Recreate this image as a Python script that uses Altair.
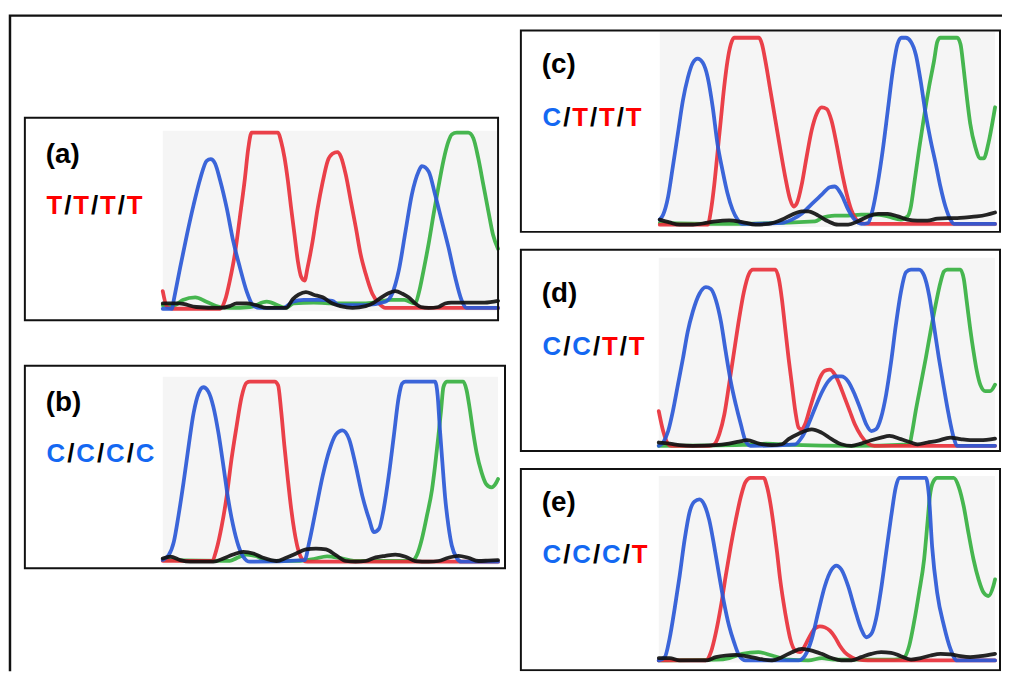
import altair as alt
import pandas as pd

# ---------------- data: chromatogram traces (scan position 0-100, signal 0-100) -------------
PANELS = ["a", "b", "c", "d", "e"]
LABELS = ["(a)", "(b)", "(c)", "(d)", "(e)"]
GENOTYPES = ["T/T/T/T", "C/C/C/C", "C/T/T/T", "C/C/T/T", "C/C/C/T"]
TRACE_NAMES = ["green", "red", "blue", "black"]
TRACE_COLORS = ["#36b040", "#e8303a", "#2a58d6", "#111111"]

A_BLUE = [(0,0),(2.8,0),(3.3,5),(5.2,23.5),(7.2,42),(9.2,59),(11.2,74),(13.1,84),(14.3,85),(15.6,82.5),(17.1,73),(19.1,57),(21,38.5),(23,23.5),(25,10),(26.9,2),(28.9,0.5),(36,0.5),(38.8,4),(42,5),(46.7,5),(50.6,4.5),(52.6,2),(60,2),(66.4,4),(68.4,8.5),(70.4,21.8),(72.4,44),(74.3,65),(76.3,78),(77.3,81),(79.3,78),(81.2,65),(83.2,50),(85.2,35),(87.2,18),(89.1,5),(90.6,0.5),(100,0.5)]
A_RED = [(0,10),(1.3,1),(3,0),(17.1,0),(18.6,5),(20,16),(21.5,31),(23,52),(24.5,74),(25.5,91),(26.5,100),(34.4,100),(35.3,95),(36.3,86),(37.3,73),(38.3,57),(39.3,42),(40.3,27),(41.3,18),(42.3,16),(43.2,23.5),(44.7,38.5),(46.2,57),(47.7,72),(49.2,84),(50.6,88),(52.1,89),(53.1,86.5),(54.6,76),(56.1,61),(57.6,46),(59,31),(60.5,20),(62.5,8.5),(64.5,3),(66.4,0.5),(100,0.5)]
A_GREEN = [(0,2),(3.3,2),(6,5),(9.7,6.5),(13,4),(17.1,1),(20,0.5),(26,1),(31,4),(36.8,0.5),(39,3),(45,3.5),(52,3),(60,3),(64.5,4),(68,5),(72,5),(75.3,3),(76.3,8.5),(77.8,22),(79.3,37),(80.8,54),(82.2,69),(83.7,84),(85.2,95),(86.2,99),(87.7,100),(91.1,100),(92.6,97),(94.1,85.5),(95.6,70.5),(97.1,55.5),(98.5,42),(100,34)]
A_BLACK = [(0,3),(5,3),(10,1),(17,0.5),(20,1.5),(22,3),(25,3),(28,2),(31,0.5),(36.8,0.5),(38.8,5.5),(40.5,8),(42.7,9.5),(45,8),(47.7,6.5),(50.6,3),(53,1.5),(56.6,0.5),(60.5,1.5),(63,3.5),(64.5,5.5),(67,8.5),(69.4,10),(71.5,8.5),(73.3,6.5),(75.3,3),(77,1),(79.3,0.5),(82.2,1),(84.2,3),(86,3.5),(90,3.5),(96,3.5),(100,4.5)]

B_BLUE = [(0,1),(1.8,3.7),(3.3,11),(4.7,25.7),(6.2,44),(7.7,64),(9.2,82.6),(10.7,93.6),(12.1,96.9),(13.6,94.5),(15.1,86),(16.6,71.6),(18.1,53),(19.5,34.9),(21,20),(22.5,9.2),(24,2.8),(26,0),(42.3,0.9),(43.7,11),(45.7,29.4),(47.7,47.7),(49.7,62),(51.6,70.6),(53.6,73),(55.6,68),(57.6,53),(59.5,36.7),(61.5,23.9),(63,16.5),(64.5,18.3),(65.9,29.4),(67.4,47.7),(68.9,69.7),(70.4,91.7),(71.4,99),(72.4,100),(81.2,100),(82,92),(82.6,75),(83.4,55),(84.2,36),(85.2,20),(86.2,9),(87.7,2),(89.1,0),(100,0)]
B_RED = [(0,0.5),(14.6,0.4),(16.1,7.3),(17.6,20),(19.1,36.7),(20.5,56.9),(22,75),(23.5,91.4),(25,99.4),(26,100),(33.4,100),(34.4,98),(35.3,84),(36.3,64),(37.3,45.9),(38.3,29.4),(39.3,16.5),(40.3,7.3),(41.8,1),(43.2,0),(100,0)]
B_GREEN = [(0,1),(20,0.5),(22,2),(25,4),(28,3),(31,0.5),(40,0.5),(45,1.5),(49,3),(53,2),(57,0.5),(74.3,0.4),(75.8,3.7),(77.3,12.8),(78.8,25.7),(80.3,40),(81.2,53),(82.2,69.7),(83,84),(83.7,97),(84.7,100),(89.6,100),(90.6,95.4),(91.6,84.4),(92.6,71.6),(93.6,60.6),(95.1,49.5),(96.5,43),(98,41.3),(99.5,44),(100,45.9)]
B_BLACK = [(0,1.8),(2.3,2.8),(5.2,0.9),(8.2,0),(12.1,0),(15.1,0),(18.1,1.8),(21,4),(24,5.5),(27,4.6),(29.9,2.2),(33.9,0.4),(36.8,2.2),(39.8,4.6),(42.7,6.8),(45.7,7.3),(48.7,6.8),(51.6,3.7),(54.6,0.4),(57.5,0),(60.5,0.4),(63.5,2.4),(66.4,3.3),(69.4,4),(72.4,2.8),(75.3,0.4),(79.3,0),(82.2,0.4),(85.2,2.2),(88.2,3.3),(91.1,2.2),(94.1,0.4),(97,0.6),(100,0.9)]

C_BLUE = [(0,2.7),(1,5.3),(2.5,15),(3.9,31),(5.4,48.7),(6.9,66.4),(8.4,78.8),(9.9,86.7),(11.3,88.8),(12.8,86.7),(14.3,78.8),(15.8,62.8),(17.2,43.4),(18.7,29.2),(20.2,16.8),(21.7,8),(23.2,2.7),(24.6,0.4),(36.5,0.9),(39.4,2.7),(42.4,6),(45.3,11),(48.3,16),(50.7,20),(52.2,20.4),(54.2,16),(56.2,8),(58.1,2.7),(60.1,0.4),(62.1,0.9),(63.5,8),(65,22),(66.5,39.8),(68,61),(69.5,82.3),(70.9,96.5),(72.1,100),(73.4,100),(74.9,97.9),(76.4,90.8),(77.8,77),(79.3,59.3),(80.8,45),(82.3,32.7),(83.7,20.4),(85.2,9.7),(86.7,2.7),(87.7,0.4),(100,0.4)]
C_RED = [(0,0),(14.3,0),(15.3,8),(16.3,22),(17.2,38),(18.2,55.8),(19.2,73.5),(20.2,87.6),(21.2,96.5),(22.2,100),(29.6,100),(30.5,96.5),(31.5,87.6),(33,71.7),(34.5,55.8),(36,39.8),(37.4,25.7),(38.9,13.3),(39.9,9.7),(40.9,11.5),(42.4,22),(43.8,36.3),(45.3,50.4),(46.8,59.3),(48.3,62.8),(49.8,61.9),(51.2,55.8),(52.7,43.4),(54.2,29.2),(55.7,16.8),(57.1,8),(58.6,2.7),(60.1,0.9),(62.1,0.4),(100,0.4)]
C_GREEN = [(0,0.9),(16.8,0.4),(46.3,1.8),(48.3,3.5),(50.2,4.4),(52.2,4.8),(56.2,4.8),(60.1,5.3),(64.1,5.3),(68,4.4),(71.9,2.7),(73.9,4.4),(74.9,9.7),(75.9,22),(77.3,39.8),(78.8,57.5),(80.3,73.5),(81.8,87.6),(82.8,98),(83.7,100),(88.7,100),(89.7,96.5),(90.6,84),(91.6,68),(92.6,54),(94.1,41.6),(95.6,35.4),(96.6,35.4),(98,43.4),(99.5,57.5),(100,62.8)]
C_BLACK = [(0,2.7),(2.9,1.2),(5.9,0),(9.9,0),(13.8,0.9),(16.7,1.8),(20.7,2.3),(24.6,1.4),(28.6,0),(32.5,0.4),(36.5,2.7),(39.4,5.3),(42.4,7.1),(44.3,7.1),(47.3,4.8),(50.2,1.8),(53.2,0),(56.2,0),(59.1,1.8),(62.1,4.4),(65.1,5.8),(68,5.8),(71,4.4),(73.9,2.7),(76.8,2.1),(79.8,2.1),(82.8,3.2),(85.7,3.5),(88.7,3.5),(91.6,3.9),(94.6,4.4),(97.5,5.3),(100,6.5)]

D_BLUE = [(0,0),(1.3,1.9),(2.8,8.4),(4.2,19.7),(5.7,34.7),(7.2,49.7),(8.6,64.7),(10.1,76),(12.1,86.3),(14,90),(15.5,89),(17,82.6),(18.5,70.4),(19.9,53.5),(21.4,36.6),(22.9,23.5),(24.4,12.2),(25.8,2.8),(27.3,0),(40.6,0.9),(42.5,4.7),(44.5,12.2),(46.5,21.6),(48.4,30),(50.4,36.6),(52.4,39.4),(54.3,39.4),(56.3,36.6),(58.3,29),(60.2,19.7),(61.7,12.2),(63.2,8.4),(64.6,9.4),(66.1,16),(67.6,29),(69.1,47.8),(70.5,68.5),(72,87.2),(73.5,98.5),(75,100),(77.4,100),(78.9,96.6),(80.4,85.4),(81.8,68.5),(83.3,49.7),(84.8,32.8),(86.2,17.8),(87.7,4.7),(88.7,0),(100,0)]
D_RED = [(0,19.7),(1.3,8.4),(2.8,0.9),(3.7,0),(15,0),(16.5,0.9),(18,6.6),(19.5,17.8),(20.9,34.7),(22.4,53.5),(23.9,72.2),(25.3,87.2),(26.8,97.5),(28,100),(34.7,100),(35.7,94.7),(36.6,83.5),(37.6,66.6),(38.6,49.7),(39.6,34.7),(40.6,19.7),(41.6,10.3),(42.5,9.4),(43.5,12.2),(45,21.6),(46.5,30.9),(47.9,38.5),(49.4,42.6),(50.9,43.2),(52.4,40.3),(53.8,34.7),(55.3,27.2),(56.8,19.7),(58.3,12.2),(60.2,5.6),(62.2,1.3),(64.1,0),(100,0)]
D_GREEN = [(0,0),(25,0.5),(32,1.2),(40,0.5),(57,0),(74.5,0.9),(75.4,8.4),(76.4,19.7),(77.9,34.7),(79.4,49.7),(80.8,64.7),(82.3,79.7),(83.8,92.9),(84.8,98.9),(85.8,100),(89.7,100),(90.7,94.7),(91.6,81.6),(92.6,66.6),(93.6,53.5),(94.6,42.2),(95.6,34.7),(97.1,31),(98.5,31),(100,34.7)]
D_BLACK = [(0,1.9),(3.2,1.3),(6.2,0.4),(10.1,0),(17,0.4),(20.9,1.3),(23.9,2.4),(26.3,3.2),(29.8,1.3),(33.7,0.4),(36.6,0.9),(38.6,3.8),(41.6,6.9),(45.5,9.4),(48.4,7.5),(51.4,3.8),(54.3,0.9),(57.3,0),(60.2,1.3),(63.2,3.2),(66.1,4.7),(68.6,5.6),(72,3.8),(75,1.9),(77,0.9),(79.9,1.9),(82.8,2.8),(86.7,4.7),(89.7,3.8),(92.6,3.2),(95.6,3.2),(100,4.1)]

E_BLUE = [(0,0),(1.8,1.8),(3.2,11.8),(4.7,28.1),(6.2,46.2),(7.7,66.3),(9.1,80.8),(10.6,87),(12.1,88.2),(13.6,85.1),(15,77),(16.5,62.5),(18,46.2),(19.4,31.7),(20.9,19),(22.4,9.9),(23.9,2.7),(25.8,0),(41.6,0),(43.5,2.7),(45.5,11.8),(47.4,26.3),(49.4,40.8),(51.4,49.8),(52.8,52),(54.3,49.8),(56.3,40.8),(58.3,28.1),(60.2,17.2),(61.7,12.7),(63.2,14.5),(64.6,22.6),(66.1,38.9),(67.6,58.9),(69.1,78.8),(70.5,95.1),(71.5,100),(79.4,100),(80.3,91),(81.3,62),(82.8,37),(84.8,19),(86.8,6),(88.7,0),(100,0)]
E_RED = [(0,0),(14,0),(15.5,4.5),(17,15.4),(18.5,29.9),(19.9,46.2),(21.4,62.5),(22.9,77),(24.4,89.7),(25.8,97.8),(27.3,100),(31.2,100),(32.2,95.1),(33.2,86),(34.2,73.4),(35.2,58.9),(36.1,44.4),(37.1,31.7),(38.1,20.8),(39.1,11.8),(40.6,5.4),(42,4.5),(43.5,8.2),(45,13.6),(46.5,17.6),(47.9,18.7),(49.4,18.1),(50.9,16.3),(52.4,12.7),(53.8,8.2),(55.3,4.5),(57.3,1.8),(59.2,0.5),(62.2,0),(100,0)]
E_GREEN = [(0,0),(17,0.4),(21,1.3),(24.8,3.6),(29.6,4.5),(33.7,2.7),(38.6,0.4),(44.5,0),(48.5,1.3),(52,0.5),(70,0.5),(73,1.8),(74.5,8.2),(75.9,20.8),(77.4,37.1),(78.9,55.3),(79.9,75.3),(80.6,89.7),(81.6,97.8),(82.8,100),(87.7,100),(89.2,95.1),(90.7,84.2),(92.1,69.7),(93.6,55.3),(95.1,44.4),(96.6,37.1),(98,35.3),(99.5,40.8),(100,44.4)]
E_BLACK = [(0,1.3),(3.2,1.3),(6.2,0),(10.1,0),(14,0),(17,1.8),(19.9,2.7),(22.9,3.1),(25.8,2.4),(29.8,0.9),(33.7,0),(36.6,1.8),(39.6,4.5),(42.5,6.3),(45.5,5.4),(48.4,3.6),(51.4,1.3),(54.3,0),(57.3,0),(60.2,1.8),(63.2,3.6),(66.1,4.5),(69.1,4.2),(72,2.3),(75,0.5),(77.9,1.3),(80.8,2.7),(83.8,3.6),(86.8,3.3),(89.7,2.3),(92.6,1.8),(95.6,2.3),(100,3.6)]

TRACES = {
    "a": {"green": A_GREEN, "red": A_RED, "blue": A_BLUE, "black": A_BLACK},
    "b": {"green": B_GREEN, "red": B_RED, "blue": B_BLUE, "black": B_BLACK},
    "c": {"green": C_GREEN, "red": C_RED, "blue": C_BLUE, "black": C_BLACK},
    "d": {"green": D_GREEN, "red": D_RED, "blue": D_BLUE, "black": D_BLACK},
    "e": {"green": E_GREEN, "red": E_RED, "blue": E_BLUE, "black": E_BLACK},
}

# ---------------- layout (page pixels) ----------------
OFF = 8                      # page margin
W, H = 1002, 666             # chart canvas
BOX = {"a": (25, 116, 502, 320), "b": (25, 366, 509, 570), "c": (525, 28, 1008, 231),
       "d": (525, 249, 1008, 452), "e": (525, 470, 1008, 673)}
GRAY = {"a": (164, 129, 502, 311), "b": (164, 377, 502, 567), "c": (665, 29, 1003, 226),
        "d": (664, 257, 1003, 448), "e": (664, 477, 1003, 665)}
# x-left, x-right, y at signal 0, y at signal 100 (clip level)
PLOT = {"a": (164, 502, 308.5, 131), "b": (164, 502, 563.5, 382), "c": (665, 1003, 223.7, 35.3),
        "d": (664, 1003, 446.7, 269), "e": (664, 1003, 663, 479)}
# text x, label baseline, genotype baseline
TEXTPOS = {"a": (46, 162, 213), "b": (46, 412, 463), "c": (546, 71, 124),
           "d": (546, 302, 355), "e": (546, 512, 565)}
CHAR_ADV = {"T": 17.5, "C": 20.5, "/": 9.5}
CHAR_COL = {"T": "#ff0000", "C": "#1468f2", "/": "#000000"}
FONT = "Liberation Sans"

canvas_x = alt.Scale(domain=[OFF, OFF + W], range=[0, W])
canvas_y = alt.Scale(domain=[OFF, OFF + H], range=[0, H])

# ---------------- layout tables ----------------
frame_df = pd.DataFrame([{"x": 10, "y": 13, "x2": 1040, "y2": 720}])
gray_df = pd.DataFrame([{"x": GRAY[p][0], "y": GRAY[p][1], "x2": GRAY[p][2], "y2": GRAY[p][3]} for p in PANELS])
box_df = pd.DataFrame([{"x": BOX[p][0], "y": BOX[p][1], "x2": BOX[p][2], "y2": BOX[p][3]} for p in PANELS])
label_df = pd.DataFrame([{"x": TEXTPOS[p][0], "y": TEXTPOS[p][1], "t": LABELS[i]} for i, p in enumerate(PANELS)])
char_rows = []
for i, p in enumerate(PANELS):
    cx = TEXTPOS[p][0]
    for ch in GENOTYPES[i]:
        adv = CHAR_ADV[ch]
        char_rows.append({"x": cx + adv / 2, "y": TEXTPOS[p][2], "t": ch, "col": CHAR_COL[ch]})
        cx += adv
char_df = pd.DataFrame(char_rows)


def rects(df, **mark):
    return alt.Chart(df).mark_rect(**mark).encode(
        x=alt.X("x:Q", scale=canvas_x, axis=None), x2="x2:Q",
        y=alt.Y("y:Q", scale=canvas_y, axis=None), y2="y2:Q")


layers = [rects(gray_df, fill="#f5f5f5", clip=True)]

for p in PANELS:
    x0, x1, yb, yt = PLOT[p]
    xs = alt.Scale(domain=[0, 100], range=[x0 - OFF, x1 - OFF])
    ys = alt.Scale(domain=[0, 100], range=[yb - OFF, yt - OFF])
    for name, col in zip(TRACE_NAMES, TRACE_COLORS):
        pts = TRACES[p][name]
        df = pd.DataFrame({"s": [q[0] for q in pts], "i": [q[1] for q in pts]})
        layers.append(
            alt.Chart(df).mark_line(interpolate="monotone", color=col, strokeWidth=3.8,
                                    strokeJoin="round", strokeCap="round", opacity=0.92, clip=True)
            .encode(x=alt.X("s:Q", scale=xs, axis=None), y=alt.Y("i:Q", scale=ys, axis=None))
        )

layers.append(rects(box_df, fillOpacity=0, stroke="#111111", strokeWidth=2, clip=True))
layers.append(
    alt.Chart(label_df).mark_text(align="left", baseline="alphabetic", font=FONT, fontWeight="bold",
                                  fontSize=28, color="#000000")
    .encode(x=alt.X("x:Q", scale=canvas_x, axis=None), y=alt.Y("y:Q", scale=canvas_y, axis=None), text="t:N")
)
layers.append(
    alt.Chart(char_df).mark_text(align="center", baseline="alphabetic", font=FONT, fontWeight="bold",
                                 fontSize=26)
    .encode(x=alt.X("x:Q", scale=canvas_x, axis=None), y=alt.Y("y:Q", scale=canvas_y, axis=None),
            text="t:N", color=alt.Color("col:N", scale=None))
)
layers.append(rects(frame_df, fillOpacity=0, stroke="#111111", strokeWidth=2.5, clip=True))

chart = (
    alt.layer(*layers)
    .resolve_scale(x="independent", y="independent")
    .properties(width=W, height=H, padding=0, autosize="none", background="white")
    .configure_view(stroke=None)
)

chart.save("out.html", embed_options={"renderer": "svg", "actions": False})
